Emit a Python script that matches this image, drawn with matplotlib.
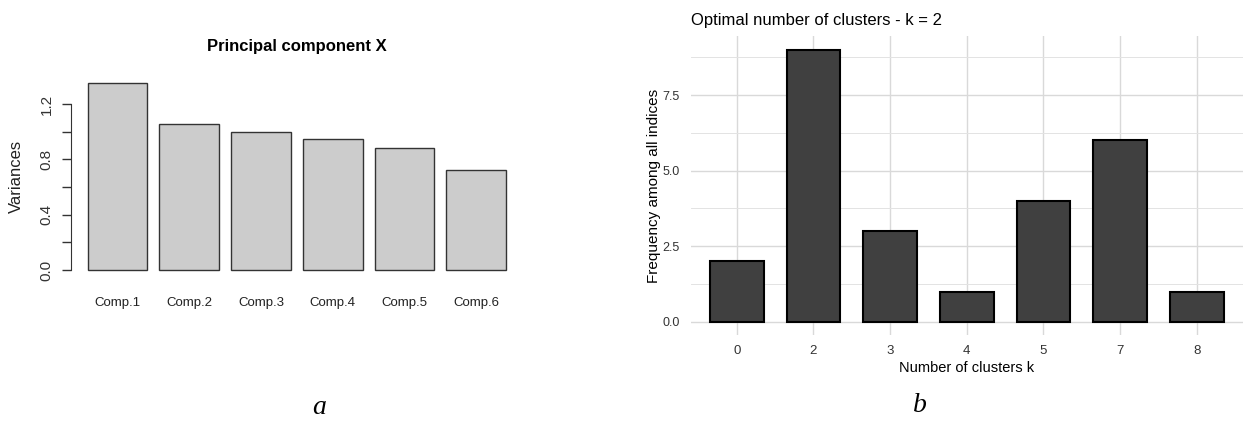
import matplotlib
matplotlib.use('Agg')
import matplotlib.pyplot as plt
import numpy as np

plt.rcParams['font.family'] = ['Liberation Sans', 'DejaVu Sans']

# -------------------------------
# Data
# -------------------------------
components = ['Comp.1', 'Comp.2', 'Comp.3', 'Comp.4', 'Comp.5', 'Comp.6']
variances = [1.352, 1.056, 0.995, 0.947, 0.880, 0.720]

clusters = ['0', '2', '3', '4', '5', '7', '8']
frequency = [2, 9, 3, 1, 4, 6, 1]

fig = plt.figure(figsize=(12.43, 4.24), dpi=100)

# -------------------------------
# Panel a: R-style barplot
# -------------------------------
ax1 = fig.add_axes([0.0571, 0.3455, 0.3634, 0.4762])
xpos = 0.7 + 1.2 * np.arange(len(components))
ax1.bar(xpos, variances, width=1.0, color='#cccccc', edgecolor='#333333', linewidth=1.0)
ax1.set_xlim(-0.08, 7.48)
ax1.set_ylim(-0.054, 1.406)

for s in ['top', 'right', 'bottom']:
    ax1.spines[s].set_visible(False)
ax1.spines['left'].set_bounds(0, 1.2)
ax1.spines['left'].set_color('#333333')

yt = [0.0, 0.2, 0.4, 0.6, 0.8, 1.0, 1.2]
ax1.set_yticks(yt)
ax1.set_yticklabels(['0.0', '', '0.4', '', '0.8', '', '1.2'],
                    rotation=90, va='center', fontsize=11, color='#333333')
ax1.tick_params(axis='y', length=6.5, width=1.0, color='#333333', pad=6)
ax1.set_xticks(xpos)
ax1.set_xticklabels(components, fontsize=9.5, color='#222222')
ax1.tick_params(axis='x', length=0, pad=14)
ax1.set_ylabel('Variances', fontsize=12, color='#222222', va='center')
ax1.yaxis.set_label_coords(-0.1218, 0.5)
ax1.set_title('Principal component X', fontsize=12, fontweight='bold', pad=18)

# -------------------------------
# Panel b: ggplot-style bars
# -------------------------------
ax2 = fig.add_axes([0.5557, 0.2092, 0.4441, 0.7052])
xi = np.arange(len(clusters))
ax2.set_axisbelow(True)
ax2.bar(xi, frequency, width=0.7, color='#404040', edgecolor='black', linewidth=1.5)
ax2.set_xlim(-0.6, len(clusters) - 0.4)
ax2.set_ylim(-0.45, 9.45)

for s in ax2.spines.values():
    s.set_visible(False)

ax2.set_xticks(xi)
ax2.set_xticklabels(clusters)
ax2.set_yticks([0, 2.5, 5.0, 7.5])
ax2.set_yticklabels(['0.0', '2.5', '5.0', '7.5'])
ax2.set_yticks([1.25, 3.75, 6.25, 8.75], minor=True)
ax2.tick_params(axis='both', which='both', length=0, labelcolor='#333333')
ax2.tick_params(axis='y', pad=8, labelsize=9)
ax2.tick_params(axis='x', pad=7, labelsize=9.5)
ax2.grid(True, which='major', color='#d9d9d9', linewidth=1.0)
ax2.grid(True, which='minor', axis='y', color='#e3e3e3', linewidth=0.7)

ax2.set_xlabel('Number of clusters k', fontsize=10.5, va='center')
ax2.xaxis.set_label_coords(0.5, -0.109)
ax2.set_ylabel('Frequency among all indices', fontsize=11, va='center')
ax2.yaxis.set_label_coords(-0.0665, 0.5)
ax2.set_title('Optimal number of clusters - k = 2', loc='left', fontsize=12, pad=8)

# -------------------------------
# Captions
# -------------------------------
fig.text(319 / 1243, 1 - 408 / 424, 'a', fontsize=20, style='italic',
         family='Liberation Serif', ha='center', va='center')
fig.text(920 / 1243, 1 - 406 / 424, 'b', fontsize=20, style='italic',
         family='Liberation Serif', ha='center', va='center')

fig.savefig('out.png', dpi=100)
